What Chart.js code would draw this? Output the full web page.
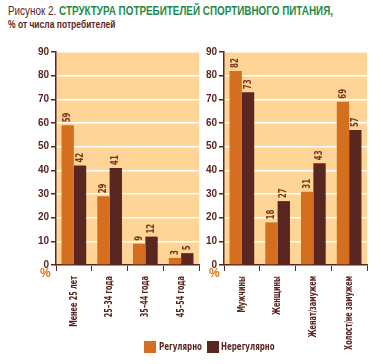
<!DOCTYPE html>
<html>
<head>
<meta charset="utf-8">
<script src="https://cdn.jsdelivr.net/npm/chart.js@4"></script>
<style>
  body { margin: 0; background: #fff; width: 383px; height: 364px; position: relative; overflow: hidden;
         font-family: 'Liberation Sans', Arial, sans-serif; }
  .cond { position: absolute; white-space: nowrap; transform-origin: 0 0; }
  #title { left: 8px; top: 3px; font-size: 13px; color: #5a2620; transform: scaleX(0.76); }
  #title b { color: #1f8a4c; }
  #sub { left: 8px; top: 19px; font-size: 10px; font-weight: bold; color: #5a2620; transform: scaleX(0.85); }
  canvas { position: absolute; }
  .pct { position: absolute; top: 266px; color: #e0741c; font-weight: bold; font-size: 12px; }
  .sw { position: absolute; top: 341px; width: 12px; height: 12px; }
  .lg { top: 341px; font-family: 'DejaVu Sans', sans-serif; font-size: 10px; font-weight: bold; color: #5a2620; transform: scaleX(0.71); }
</style>
</head>
<body>
<div id="title" class="cond">Рисунок 2. <b>СТРУКТУРА ПОТРЕБИТЕЛЕЙ СПОРТИВНОГО ПИТАНИЯ,</b></div>
<div id="sub" class="cond">% от числа потребителей</div>
<canvas id="left" width="200" height="324" style="left:0;top:40px"></canvas>
<canvas id="right" width="200" height="324" style="left:168px;top:40px"></canvas>
<div class="pct" style="left:40px">%</div>
<div class="pct" style="left:209px">%</div>
<div class="sw" style="left:144px;background:#d66e20"></div>
<div class="cond lg" style="left:159px">Регулярно</div>
<div class="sw" style="left:207px;background:#5a2620"></div>
<div class="cond lg" style="left:221px">Нерегулярно</div>
<script>
const ageLabels = ['Менее 25 лет', '25–34 года', '35–44 года', '45–54 года'];
const ageRegular = [59, 29, 9, 3];
const ageIrregular = [42, 41, 12, 5];

const groupLabels = ['Мужчины', 'Женщины', 'Женат/замужем', 'Холост/не замужем'];
const groupRegular = [82, 18, 31, 69];
const groupIrregular = [73, 27, 43, 57];

const seriesNames = ['Регулярно', 'Нерегулярно'];
const yTicks = [0, 10, 20, 30, 40, 50, 60, 70, 80, 90];

const maroon = '#5a2620';
const orange = '#d66e20';
const fontFamily = "'Liberation Sans', Arial, sans-serif";
const heavyFont = "'DejaVu Sans', sans-serif";

const plotBg = {
  id: 'plotBg',
  beforeDraw(chart) {
    const { ctx, chartArea: a } = chart;
    ctx.save();
    ctx.fillStyle = '#fed596';
    ctx.fillRect(a.left, a.top, a.right - a.left, a.bottom - a.top);
    ctx.restore();
  }
};

// rotated, narrowed text (the original uses a condensed face)
function drawUp(ctx, text, x, y, align, squeeze) {
  ctx.save();
  ctx.translate(x, y);
  ctx.rotate(-Math.PI / 2);
  ctx.scale(squeeze, 1);
  ctx.textAlign = align;
  ctx.fillText(text, 0, 0);
  ctx.restore();
}

const barValues = {
  id: 'barValues',
  afterDatasetsDraw(chart) {
    const ctx = chart.ctx;
    ctx.save();
    ctx.font = 'bold 10px ' + heavyFont;
    ctx.fillStyle = '#7a3218';
    ctx.textBaseline = 'middle';
    chart.data.datasets.forEach((ds, i) => {
      chart.getDatasetMeta(i).data.forEach((bar, j) => {
        drawUp(ctx, String(ds.data[j]), bar.x, bar.y - 3, 'left', 0.7);
      });
    });
    ctx.restore();
  }
};

const catLabels = {
  id: 'catLabels',
  afterDraw(chart) {
    const ctx = chart.ctx;
    const x = chart.scales.x;
    ctx.save();
    ctx.font = 'bold 10.5px ' + heavyFont;
    ctx.fillStyle = maroon;
    ctx.textBaseline = 'middle';
    chart.data.labels.forEach((lab, i) => {
      drawUp(ctx, lab, x.getPixelForTick(i), x.top + 11, 'right', 0.62);
    });
    ctx.restore();
  }
};

function makeChart(id, labels, regular, irregular) {
  return new Chart(document.getElementById(id), {
    type: 'bar',
    data: {
      labels: labels,
      datasets: [
        { label: seriesNames[0], data: regular, backgroundColor: orange },
        { label: seriesNames[1], data: irregular, backgroundColor: maroon }
      ]
    },
    options: {
      responsive: false,
      animation: false,
      categoryPercentage: 0.69,
      barPercentage: 1,
      layout: { padding: { top: 12, right: 1, left: 0, bottom: 0 } },
      plugins: { legend: { display: false }, tooltip: { enabled: false } },
      scales: {
        x: {
          afterFit(scale) { scale.height = 99; },
          grid: { display: true, drawOnChartArea: false, offset: true, color: maroon, tickLength: 6 },
          border: { color: maroon, width: 1.5 },
          ticks: { display: false }
        },
        y: {
          min: 0, max: 90,
          afterFit(scale) { scale.width = 56; },
          afterBuildTicks(scale) { scale.ticks = yTicks.map(v => ({ value: v })); },
          grid: { color: '#ffffff', lineWidth: 1.5, tickColor: maroon, tickLength: 5 },
          border: { color: maroon, width: 1.5 },
          ticks: { padding: 2, color: maroon, font: { family: fontFamily, size: 10, weight: 'bold' } }
        }
      }
    },
    plugins: [plotBg, barValues, catLabels]
  });
}

makeChart('left', ageLabels, ageRegular, ageIrregular);
makeChart('right', groupLabels, groupRegular, groupIrregular);
</script>
</body>
</html>
